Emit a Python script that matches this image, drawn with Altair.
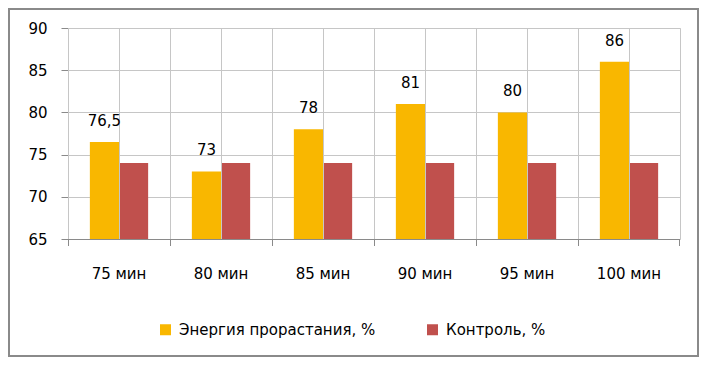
import altair as alt
import pandas as pd

categories = ["75 мин", "80 мин", "85 мин", "90 мин", "95 мин", "100 мин"]
energy = [76.5, 73, 78, 81, 80, 86]
control = [74, 74, 74, 74, 74, 74]
series_names = ["Энергия прорастания, %", "Контроль, %"]
colors = ["#F9B700", "#C0504D"]
FONT = "DejaVu Sans"
FS = 15
GRID = "#c6c6c6"
AXC = "#8a8a8a"

def fmt(v):
    s = ("%g" % v)
    return s.replace(".", ",")

rows = []
for c, e, k in zip(categories, energy, control):
    rows.append({"cat": c, "series": series_names[0], "value": e, "label": fmt(e)})
    rows.append({"cat": c, "series": series_names[1], "value": k, "label": fmt(k)})
df = pd.DataFrame(rows)
grid_df = pd.DataFrame({"cat": categories})

W, H = 612, 211
PL = 60

xaxis = alt.Axis(labelAngle=0, ticks=False, grid=False, domain=False,
                 bandPosition=0.5, labelAlign="center",
                 labelFontSize=FS, labelFont=FONT, labelColor="#000",
                 labelPadding=27)
xscale = alt.Scale(domain=categories, paddingInner=0, paddingOuter=0)
yscale = alt.Scale(domain=[65, 90], nice=False, zero=False)

bars = alt.Chart(df).mark_bar().encode(
    x=alt.X("cat:N", sort=categories, scale=xscale, axis=xaxis, title=None),
    xOffset=alt.XOffset("series:N", sort=series_names,
                        scale=alt.Scale(paddingInner=0, paddingOuter=0.75)),
    y=alt.Y("value:Q", scale=yscale, title=None,
            axis=alt.Axis(values=[65, 70, 75, 80, 85, 90], tickSize=7, tickColor=AXC,
                          domainColor=AXC, gridColor=GRID,
                          labelFontSize=FS, labelFont=FONT, labelColor="#000",
                          labelPadding=14)),
    y2=alt.Y2(datum=65),
    color=alt.Color("series:N", sort=series_names,
                    scale=alt.Scale(domain=series_names, range=colors),
                    legend=alt.Legend(title=None, orient="none", direction="horizontal",
                                      legendX=90, legendY=294, symbolType="square",
                                      symbolSize=121, symbolStrokeWidth=0,
                                      labelFontSize=FS, labelFont=FONT, labelColor="#000",
                                      labelLimit=400, labelOffset=6, columnPadding=49)),
)

vgrid_b = alt.Chart(grid_df).mark_rule(color=GRID, strokeWidth=1, xOffset=0.5).encode(
    x=alt.X("cat:N", sort=categories, bandPosition=0),
    y=alt.value(0), y2=alt.value(H)
)
vgrid_c = alt.Chart(grid_df).mark_rule(color=GRID, strokeWidth=1, xOffset=0.5).encode(
    x=alt.X("cat:N", sort=categories, bandPosition=0.5),
    y=alt.value(0), y2=alt.value(H)
)
xticks = alt.Chart(grid_df).mark_rule(color=AXC, strokeWidth=1, xOffset=0.5).encode(
    x=alt.X("cat:N", sort=categories, bandPosition=0),
    y=alt.value(H), y2=alt.value(H + 7)
)
xtick_end = alt.Chart(grid_df.head(1)).mark_rule(color=AXC, strokeWidth=1, xOffset=-0.5).encode(
    x=alt.value(W), y=alt.value(H), y2=alt.value(H + 7)
)
xdomain = alt.Chart(grid_df.head(1)).mark_rule(color=AXC, strokeWidth=1, yOffset=0.5).encode(
    x=alt.value(0), x2=alt.value(W), y=alt.value(H)
)
frame = alt.Chart(grid_df.head(1)).mark_rect(filled=False, fillOpacity=0, stroke=AXC,
                                              strokeWidth=2).encode(
    x=alt.value(-PL + 1), x2=alt.value(691 - PL - 1), y=alt.value(-19), y2=alt.value(328)
)

labels = alt.Chart(df).transform_filter(
    alt.datum.series == series_names[0]
).mark_text(fontSize=FS, font=FONT, color="#000", baseline="alphabetic", dy=-16).encode(
    x=alt.X("cat:N", sort=categories),
    xOffset=alt.XOffset("series:N", sort=series_names,
                        scale=alt.Scale(paddingInner=0, paddingOuter=0.75)),
    y=alt.Y("value:Q", scale=yscale),
    text="label:N",
)

chart = alt.layer(bars, vgrid_b, vgrid_c, labels, xdomain, xticks, xtick_end, frame).properties(
    width=W, height=H,
    autosize=alt.AutoSizeParams(type="none"),
    padding={"left": PL, "top": 20, "right": 691 - PL - W, "bottom": 118},
    background="white",
).configure_view(stroke=GRID)

chart.save("out.html", embed_options={"renderer": "svg", "actions": False})
